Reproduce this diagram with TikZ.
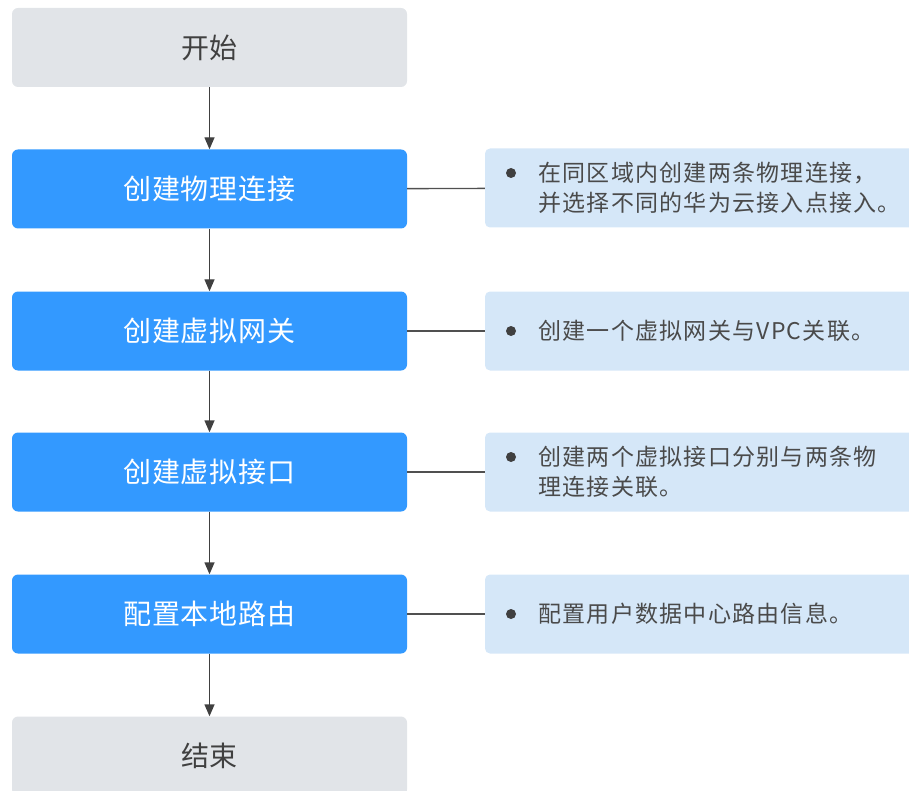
\documentclass[tikz,border=0pt]{standalone}
\usepackage{fontspec}
\setmainfont{Noto Sans CJK SC}
\newfontfamily\stepfont[LetterSpace=3.5]{Noto Sans CJK SC}
\newfontfamily\notefont[LetterSpace=5.5]{Noto Sans CJK SC}
\usetikzlibrary{arrows.meta}
\definecolor{stepblue}{HTML}{3399FF}
\definecolor{endgray}{HTML}{E1E4E8}
\definecolor{noteblue}{HTML}{D5E7F8}
\definecolor{darktext}{HTML}{404040}
\definecolor{notetext}{HTML}{4A4A4A}
\definecolor{linegray}{HTML}{505050}
\tikzset{
  stepbox/.style={draw=none, fill=stepblue, rounded corners=6pt, minimum width=395pt, minimum height=79pt, text=white, font=\stepfont\fontsize{28}{32}\selectfont, inner sep=0pt},
  termbox/.style={stepbox, fill=endgray, text=darktext},
  notebox/.style={draw=none, fill=noteblue, rounded corners=5pt, minimum width=430pt, minimum height=79pt, inner sep=0pt},
  notetxt/.style={anchor=west, align=left, text=notetext, font=\notefont\fontsize{23}{30}\selectfont, inner sep=0pt},
  bulletdot/.style={circle, fill=darktext, minimum size=10pt, inner sep=0pt},
  flow/.style={draw=darktext, line width=1.4pt, -{Triangle[length=12pt,width=10pt]}},
  link/.style={draw=linegray, line width=1.4pt}
}
\begin{document}
\begin{tikzpicture}[x=1pt,y=-1pt]
\useasboundingbox (0,0) rectangle (909,791);
\node[termbox] (s) at (209.5,47.5) {开始};
\node[stepbox] (b1) at (209.5,189) {创建物理连接};
\node[stepbox] (b2) at (209.5,331) {创建虚拟网关};
\node[stepbox] (b3) at (209.5,472) {创建虚拟接口};
\node[stepbox] (b4) at (209.5,614) {配置本地路由};
\node[termbox] (e) at (209.5,756) {结束};
\draw[flow] (s) -- (b1);
\draw[flow] (b1) -- (b2);
\draw[flow] (b2) -- (b3);
\draw[flow] (b3) -- (b4);
\draw[flow] (b4) -- (e);
\node[notebox] (n1) at (700,188) {};
\node[notebox] (n2) at (700,331) {};
\node[notebox] (n3) at (700,472) {};
\node[notebox] (n4) at (700,614) {};
\draw[link] (b1) -- (n1);
\draw[link] (b2) -- (n2);
\draw[link] (b3) -- (n3);
\draw[link] (b4) -- (n4);
\node[bulletdot] (d1) at (511,173) {};
\node[notetxt] (t1) at (538,188) {在同区域内创建两条物理连接，\\并选择不同的华为云接入点接入。};
\node[bulletdot] (d2) at (511,331) {};
\node[notetxt] (t2) at (538,331) {创建一个虚拟网关与VPC关联。};
\node[bulletdot] (d3) at (511,457) {};
\node[notetxt] (t3) at (538,472) {创建两个虚拟接口分别与两条物\\理连接关联。};
\node[bulletdot] (d4) at (511,614) {};
\node[notetxt] (t4) at (538,614) {配置用户数据中心路由信息。};
\end{tikzpicture}
\end{document}
